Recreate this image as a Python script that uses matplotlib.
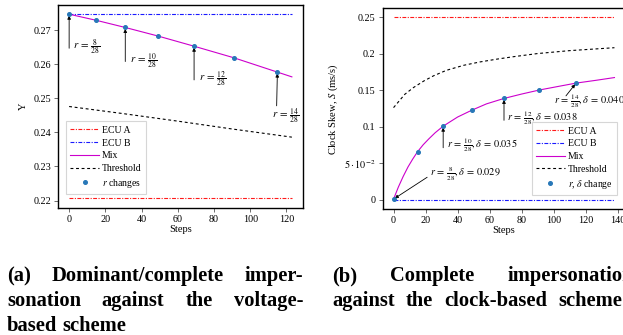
import matplotlib
matplotlib.use("Agg")
import matplotlib.pyplot as plt

plt.rcParams['font.family'] = ['Liberation Serif', 'DejaVu Serif']
plt.rcParams['mathtext.fontset'] = 'stix'

# ---------------- data (a) voltage-based ----------------
a_ecu_a = 0.2206
a_ecu_b = 0.2747
a_mix_steps = [0, 15, 31, 49, 69, 91, 115, 123]
a_mix_vals = [0.2747, 0.2729, 0.2708, 0.2683, 0.2653, 0.2619, 0.2577, 0.2563]
a_thr_steps = [0, 30, 60, 90, 123]
a_thr_vals = [0.2476, 0.2455, 0.2433, 0.2410, 0.2386]
a_change_steps = [0, 15, 31, 49, 69, 91, 115]
a_change_vals = [0.2747, 0.2729, 0.2708, 0.2683, 0.2653, 0.2619, 0.2577]
a_labels = [r'$r\,=\,\frac{8}{28}$', r'$r\,=\,\frac{10}{28}$',
            r'$r\,=\,\frac{12}{28}$', r'$r\,=\,\frac{14}{28}$']
a_label_idx = [0, 2, 4, 6]

# ---------------- data (b) clock-based ----------------
b_ecu_a = 0.25
b_ecu_b = 0.0005
b_mix_steps = [0, 3, 6, 9, 12, 15, 18.5, 22, 26, 31, 40, 49, 58, 69, 80, 91, 103, 114, 127, 138]
b_mix_vals = [0.001, 0.0175, 0.032, 0.045, 0.056, 0.066, 0.0755, 0.0835, 0.092, 0.101,
              0.1135, 0.123, 0.1315, 0.139, 0.145, 0.1505, 0.1555, 0.160, 0.164, 0.1676]
b_thr_steps = [0, 7, 12.5, 19, 25, 33, 44, 54, 65, 75, 90, 110, 138]
b_thr_vals = [0.1264, 0.1446, 0.1540, 0.1630, 0.1700, 0.1775, 0.1845, 0.1890,
              0.1930, 0.1962, 0.2005, 0.2045, 0.2085]
b_change_steps = [0, 15, 31, 49, 69, 91, 114]
b_change_vals = [0.001, 0.066, 0.101, 0.123, 0.139, 0.1505, 0.160]
b_labels = [r'$r\,=\,\frac{8}{28},\delta\,=\,0.029$', r'$r\,=\,\frac{10}{28},\delta\,=\,0.035$',
            r'$r\,=\,\frac{12}{28},\delta\,=\,0.038$', r'$r\,=\,\frac{14}{28},\delta\,=\,0.040$']
b_label_idx = [0, 2, 4, 6]
b_yticks = [0, 0.05, 0.1, 0.15, 0.2, 0.25]
b_yticklabels = ['0', r'$5\cdot10^{-2}$', '0.1', '0.15', '0.2', '0.25']

captions_a = [["(a)", "Dominant/complete", "imper-"],
              ["sonation", "against", "the", "voltage-"],
              ["based", "scheme"]]
captions_b = [["(b)", "Complete", "impersonation"],
              ["against", "the", "clock-based", "scheme"]]

W, H = 623, 335
fig = plt.figure(figsize=(W / 100, H / 100), dpi=100)

RED = '#ff1a1a'
BLUE = '#1a1aff'
MAG = '#cc00cc'
DOT = '#2878b8'
FS = 7.3
LFS = 7.0
AFS = 7.8

def style_axes(ax):
    for s in ax.spines.values():
        s.set_linewidth(1.0)
        s.set_color('black')
    ax.tick_params(direction='out', length=3, width=0.6, color='#555555',
                   labelsize=FS, pad=2, top=False, right=False)

def draw(ax, ecu_a, ecu_b, xmax, mix_s, mix_v, thr_s, thr_v, ch_s, ch_v, chlabel):
    ax.plot([0, xmax], [ecu_a, ecu_a], color=RED, lw=0.8, dashes=(3.5, 1.3, 1, 1.3), label='ECU A')
    ax.plot([0, xmax], [ecu_b, ecu_b], color=BLUE, lw=0.8, dashes=(3.5, 1.3, 1, 1.3), label='ECU B')
    ax.plot(mix_s, mix_v, color=MAG, lw=0.8, label='Mix')
    ax.plot(thr_s, thr_v, color='black', lw=0.8, dashes=(2.6, 2.4), label='Threshold')
    ax.plot(ch_s, ch_v, ls='none', marker='o', ms=2.6, color=DOT, label=chlabel, zorder=5)

def make_legend(ax, loc, anchor):
    leg = ax.legend(loc=loc, bbox_to_anchor=anchor, borderaxespad=0,
                    fontsize=LFS, frameon=True, fancybox=False, handlelength=2.9,
                    handletextpad=0.3, labelspacing=0.38, borderpad=0.45)
    leg.get_frame().set_edgecolor('#cccccc')
    leg.get_frame().set_linewidth(0.8)
    return leg

# ---------- left axes ----------
axA = fig.add_axes([58 / W, 1 - 208 / H, 245 / W, 203 / H])
draw(axA, a_ecu_a, a_ecu_b, 123, a_mix_steps, a_mix_vals, a_thr_steps, a_thr_vals,
     a_change_steps, a_change_vals, r'$r$ changes')
axA.set_xlim(-6.15, 129.15)
axA.set_ylim(0.2178, 0.2774)
axA.set_xticks([0, 20, 40, 60, 80, 100, 120])
axA.set_yticks([0.22, 0.23, 0.24, 0.25, 0.26, 0.27])
axA.set_yticklabels(['0.22', '0.23', '0.24', '0.25', '0.26', '0.27'])
style_axes(axA)
axA.set_xlabel('Steps', fontsize=FS + 0.3, labelpad=1)
axA.set_ylabel('Υ', fontsize=FS + 0.3, labelpad=4)
make_legend(axA, 'lower left', (0.033, 0.069))

# annotations (a): arrow tails (step, value) and text anchors
a_tails = [(0, 0.2647), (31, 0.2608), (69, 0.2554), (114.6, 0.2478)]
a_text = [(2.2, 0.2650, 'left', 'center'), (33.5, 0.2612, 'left', 'center'),
          (71.7, 0.2557, 'left', 'center'), (112.0, 0.2476, 'left', 'top')]
for k, i in enumerate(a_label_idx):
    axA.annotate('', xy=(a_change_steps[i], a_change_vals[i]), xytext=a_tails[k],
                 arrowprops=dict(arrowstyle='-|>', color='black', lw=0.6,
                                 mutation_scale=5, shrinkA=0, shrinkB=1))
    tx, ty, ha, va = a_text[k]
    axA.text(tx, ty, a_labels[k], fontsize=AFS, ha=ha, va=va)

# ---------- right axes ----------
axB = fig.add_axes([382.5 / W, 1 - 209 / H, 243 / W, 200.7 / H])
draw(axB, b_ecu_a, b_ecu_b, 138, b_mix_steps, b_mix_vals, b_thr_steps, b_thr_vals,
     b_change_steps, b_change_vals, r'$r$, $\delta$ change')
axB.set_xlim(-6.9, 144.9)
axB.set_ylim(-0.0125, 0.2625)
axB.set_xticks([0, 20, 40, 60, 80, 100, 120, 140])
axB.set_yticks(b_yticks)
axB.set_yticklabels(b_yticklabels)
style_axes(axB)
axB.set_xlabel('Steps', fontsize=FS + 0.3, labelpad=1)
axB.set_ylabel(r'Clock Skew, $S$ (ms/s)', fontsize=FS + 0.3, labelpad=3)
make_legend(axB, 'lower right', (0.964, 0.07))

b_tails = [(21, 0.031), (31, 0.0714), (69, 0.109), (107.7, 0.1425)]
b_text = [(22.8, 0.0345, 'left', 'center'), (33.3, 0.075, 'left', 'center'),
          (70.7, 0.1115, 'left', 'center'), (100.4, 0.1355, 'left', 'center')]
for k, i in enumerate(b_label_idx):
    axB.annotate('', xy=(b_change_steps[i], b_change_vals[i]), xytext=b_tails[k],
                 arrowprops=dict(arrowstyle='-|>', color='black', lw=0.6,
                                 mutation_scale=5, shrinkA=0, shrinkB=1))
    tx, ty, ha, va = b_text[k]
    axB.text(tx, ty, b_labels[k], fontsize=AFS - 0.4, ha=ha, va=va, clip_on=False)

# ---------- captions (justified) ----------
renderer = fig.canvas.get_renderer()
CAP_FS = 14.8

def caption_line(words, x0, x1, ybase, justify=True):
    texts = [fig.text(0, 1 - ybase / H, w, fontsize=CAP_FS, fontweight='bold',
                      ha='left', va='baseline') for w in words]
    widths = [t.get_window_extent(renderer).width for t in texts]
    if justify and len(words) > 1:
        gap = ((x1 - x0) - sum(widths)) / (len(words) - 1)
    else:
        gap = CAP_FS * 0.25 * 100 / 72
    x = x0
    for t, w in zip(texts, widths):
        t.set_x(x / W)
        x += w + gap

caption_line(captions_a[0], 7, 303, 281)
caption_line(captions_a[1], 7, 303, 306)
caption_line(captions_a[2], 7, 303, 331, justify=False)
caption_line(captions_b[0], 332, 634, 281)
caption_line(captions_b[1], 332, 622, 306)

fig.savefig('out.png', dpi=100)
